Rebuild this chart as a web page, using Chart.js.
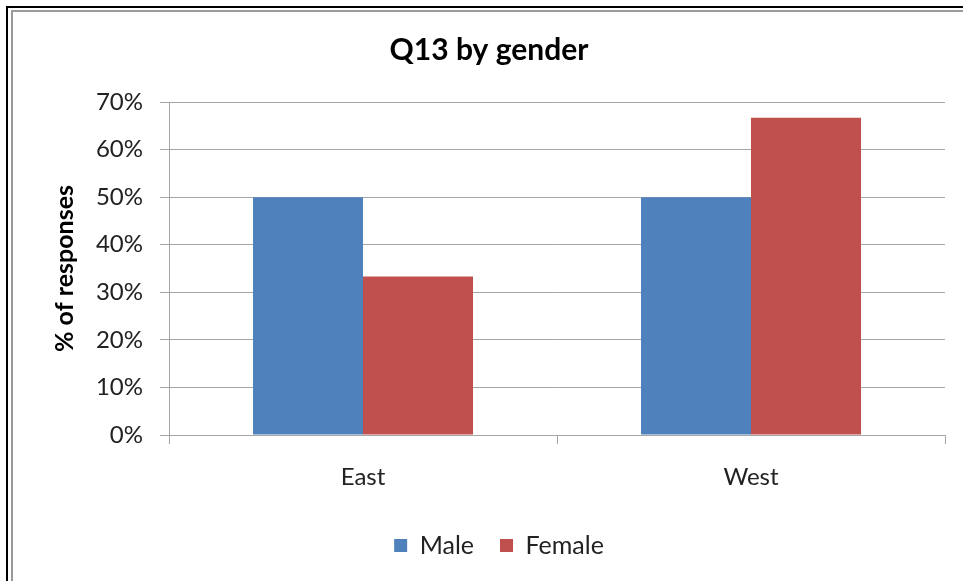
<!DOCTYPE html>
<html>
<head>
<meta charset="utf-8">
<script src="https://cdn.jsdelivr.net/npm/chart.js@4/dist/chart.umd.min.js"></script>
<style>
  html, body { margin: 0; padding: 0; background: #fff; overflow: hidden; }
  #wrap { position: absolute; left: 0; top: 0; width: 963px; height: 581px; }
  #frameBlack { position: absolute; left: 6px; top: 6px; width: 1000px; height: 600px;
    border-left: 2px solid #000; border-top: 2px solid #000; }
  #frameGray { position: absolute; left: 11px; top: 10px; width: 1000px; height: 600px;
    border-left: 2px solid #9a9a9a; border-top: 2px solid #9a9a9a; }
</style>
</head>
<body>
<div id="wrap"><canvas id="c" width="963" height="581"></canvas></div>
<div id="frameBlack"></div>
<div id="frameGray"></div>
<script>
const categories = ["East", "West"];
const seriesNames = ["Male", "Female"];
const maleValues = [50, 50];
const femaleValues = [33.3, 66.7];
const yTicks = [0, 10, 20, 30, 40, 50, 60, 70];

const FONT = "Lato, 'Liberation Sans', sans-serif";
const GRID = "#a6a6a6";

const legendShift = {
  id: "legendShift",
  afterLayout(chart) {
    const lg = chart.legend;
    if (lg) { lg.left += 10; lg.right += 10; }
  }
};

new Chart(document.getElementById("c"), {
  type: "bar",
  data: {
    labels: categories,
    datasets: [
      { label: seriesNames[0], data: maleValues, backgroundColor: "#4F81BD", borderWidth: 0 },
      { label: seriesNames[1], data: femaleValues, backgroundColor: "#C0504D", borderWidth: 0 }
    ]
  },
  plugins: [legendShift],
  options: {
    responsive: false,
    animation: false,
    layout: { padding: { left: 33, right: 18, top: 32, bottom: 13 } },
    datasets: { bar: { categoryPercentage: 0.567, barPercentage: 1.0 } },
    plugins: {
      title: {
        display: true, text: "Q13 by gender", color: "#000",
        font: { family: FONT, size: 30, weight: "bold" },
        padding: { top: 0, bottom: 34 }
      },
      legend: {
        position: "bottom",
        labels: {
          color: "#222", font: { family: FONT, size: 25 },
          boxWidth: 13, boxHeight: 13, padding: 26
        }
      },
      tooltip: { enabled: false }
    },
    scales: {
      x: {
        grid: { display: true, drawOnChartArea: false, drawTicks: true, tickLength: 9, color: GRID, offset: true },
        border: { display: true, color: GRID, width: 1 },
        ticks: { color: "#222", font: { family: FONT, size: 24 }, padding: 19 },
        afterFit: (s) => { s.height = 72; }
      },
      y: {
        min: 0, max: 70,
        afterBuildTicks: (s) => { s.ticks = yTicks.map(v => ({ value: v })); },
        grid: { color: GRID, tickLength: 9, drawTicks: true },
        border: { display: true, color: GRID, width: 1 },
        ticks: { color: "#222", font: { family: FONT, size: 24 }, padding: 17,
                 callback: (v) => v + "%" },
        title: { display: true, text: "% of responses", color: "#000",
                 font: { family: FONT, size: 25, weight: "bold" }, padding: { top: 17, bottom: 0 } },
        afterFit: (s) => { s.width = 136; }
      }
    }
  }
});
</script>
</body>
</html>
